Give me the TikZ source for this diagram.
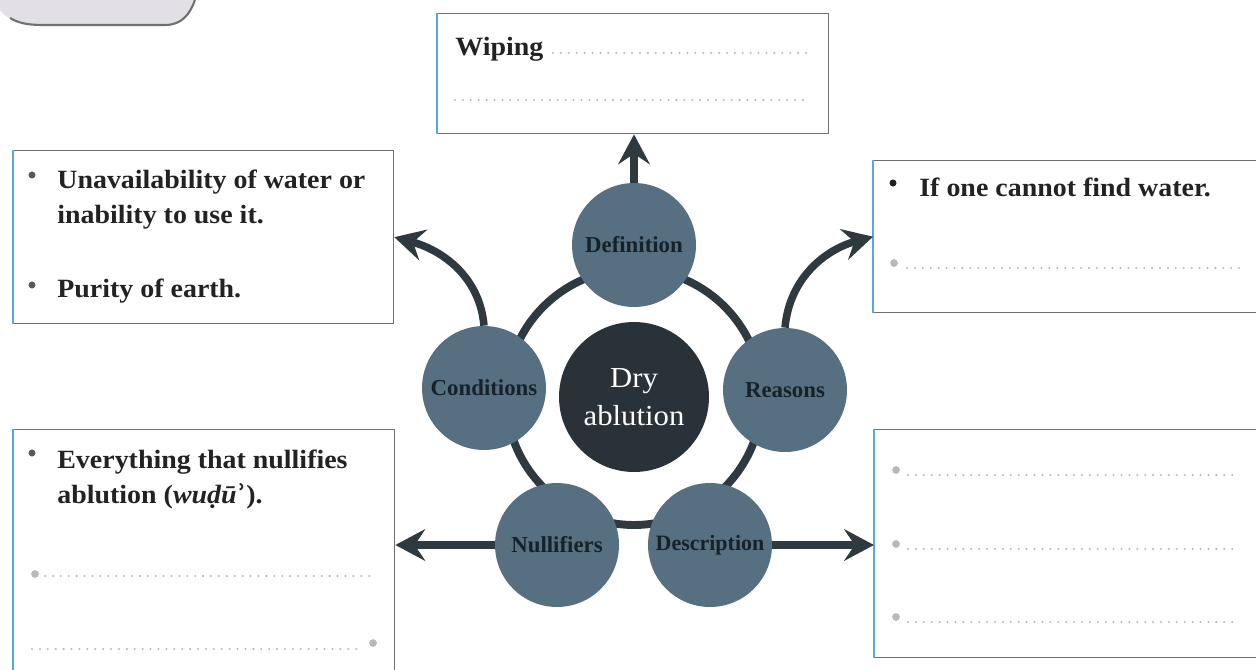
\documentclass[tikz,border=0pt]{standalone}
\usepackage{fontspec}
\setmainfont{Liberation Serif}
\newfontfamily\widefont[FakeStretch=1.06]{Liberation Serif}
\newfontfamily\hamzafont{DejaVu Serif}
\usetikzlibrary{arrows.meta}

\definecolor{ringcol}{HTML}{2E3A40}
\definecolor{bubcol}{HTML}{567082}
\definecolor{corecol}{HTML}{283238}
\definecolor{labcol}{HTML}{16222A}
\definecolor{edgecol}{HTML}{707070}
\definecolor{sidecol}{HTML}{5AA8D6}
\definecolor{dotcol}{HTML}{B8B8B8}
\definecolor{inkcol}{HTML}{222222}
\definecolor{patchcol}{HTML}{E2DFE6}

\tikzset{
  panel/.style={draw=edgecol, line width=0.8pt, anchor=north west, inner sep=0pt},
  bubble/.style={circle, fill=bubcol, minimum size=2.48cm, inner sep=0pt, text=labcol,
    font=\bfseries\fontsize{13}{13}\selectfont},
  core/.style={circle, fill=corecol, minimum size=3cm, inner sep=0pt, text=white,
    align=center, font=\widefont\fontsize{16.5}{21.5}\selectfont},
  ringline/.style={draw=ringcol, line width=4.5pt},
  arr/.style={draw=ringcol, line width=4.3pt, -{Stealth[length=17pt, width=18pt, inset=6pt]}},
  item/.style={text=inkcol, inner sep=0pt, anchor=base west,
    font=\widefont\bfseries\fontsize{15}{17}\selectfont},
  dotline/.style={draw=dotcol, line width=1.3pt, line cap=round, dash pattern=on 0pt off 4.5pt},
  blackdot/.style={fill=inkcol!75},
  greydot/.style={fill=dotcol}
}

\begin{document}
\begin{tikzpicture}[x=0.02cm, y=-0.02cm]
  \useasboundingbox (0,0) rectangle (1256,669);
  \clip (0,0) rectangle (1256,669);

  % corner patch, top left
  \fill[patchcol] (0,0) -- (0,10) .. controls (8,20) and (20,25) .. (45,25)
    -- (165,25) .. controls (182,25) and (190,14) .. (195,0) -- cycle;
  \draw[edgecol, line width=1.2pt] (10,18) .. controls (20,24) and (30,25) .. (45,25)
    -- (165,25) .. controls (182,25) and (190,14) .. (195,0);

  % answer panels
  \path
    (437,13) node[panel, minimum width=7.82cm, minimum height=2.4cm] (wipebox) {}
    (13,150) node[panel, minimum width=7.6cm, minimum height=3.46cm] (condbox) {}
    (873,160) node[panel, minimum width=8cm, minimum height=3.04cm] (reasbox) {}
    (13,429) node[panel, minimum width=7.62cm, minimum height=5.2cm] (nullbox) {}
    (874,429) node[panel, minimum width=8cm, minimum height=4.56cm] (descbox) {};
  \foreach \b in {wipebox, condbox, reasbox, nullbox, descbox}
    \draw[sidecol, line width=0.8pt] (\b.north west) -- (\b.south west);

  % ring behind the bubbles
  \draw[ringline] (634,397) circle[radius=2.56cm];

  \path
    (634,397) node[core] (dry) {Dry\\ablution}
    (634,245) node[bubble] (defn) {Definition}
    (484,388) node[bubble] (cond) {Conditions}
    (785,390) node[bubble] (reas) {Reasons}
    (557,545) node[bubble] (null) {Nullifiers}
    (710,545) node[bubble, font=\bfseries\fontsize{12.5}{12.5}\selectfont] (desc) {Description};

  \begin{scope}[arr]
    \draw (defn.north) -- (defn.north |- wipebox.south);
    \draw (cond.north) to[out=95, in=-15] (condbox.east);
    \draw (reas.north) to[out=85, in=195] (reasbox.west);
    \draw (null.west) -- (null.west -| nullbox.east);
    \draw (desc.east) -- (desc.east -| descbox.west);
  \end{scope}

  % Wiping
  \node[item] (wipe) at (455,56) {Wiping};
  \draw[dotline] (553,53) -- (807,53);
  \draw[dotline] (455,100) -- (807,100);

  % Conditions
  \fill[blackdot] (32,175) circle[radius=2pt];
  \node[item] (cond1) at (57,188) {Unavailability of water or};
  \node[item] (cond2) at (57,223) {inability to use it.};
  \fill[blackdot] (32,285) circle[radius=2pt];
  \node[item] (cond3) at (57,297) {Purity of earth.};

  % Reasons
  \fill[inkcol] (893,183) circle[radius=2pt];
  \node[item] (reas1) at (919,196) {If one cannot find water.};
  \fill[greydot] (894,263) circle[radius=2.2pt];
  \draw[dotline] (907,268) -- (1240,268);

  % Nullifiers
  \fill[blackdot] (32,453) circle[radius=2pt];
  \node[item] (null1) at (57,468) {Everything that nullifies};
  \node[item] (null2) at (57,503) {ablution (\textit{wuḍū}{\hamzafont\bfseries ʾ}).};
  \fill[greydot] (35,574) circle[radius=2.2pt];
  \draw[dotline] (45,576) -- (377,576);
  \draw[dotline] (32,649) -- (362,649);
  \fill[greydot] (373,643) circle[radius=2.2pt];

  % Description
  \foreach \y in {470, 544, 617} {
    \fill[greydot] (896,\y) circle[radius=2.2pt];
    \draw[dotline] (908,\y+5) -- (1240,\y+5);
  }
\end{tikzpicture}
\end{document}
